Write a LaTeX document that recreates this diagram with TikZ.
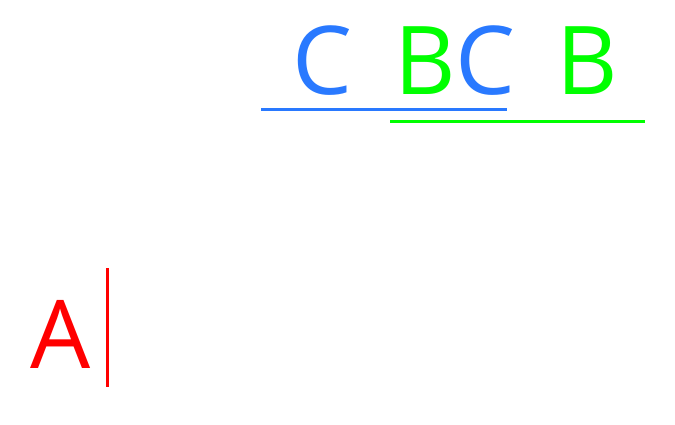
\documentclass[tikz,border=0pt]{standalone}
\usepackage{fontspec}
\setmainfont{Open Sans}
\definecolor{cblue}{RGB}{41,121,255}
\definecolor{cgreen}{RGB}{0,255,0}
\definecolor{cred}{RGB}{255,0,0}
\begin{document}
\begin{tikzpicture}[x=1pt,y=-1pt,
  letter/.style={inner sep=0pt,anchor=base,font=\fontsize{95}{100}\selectfont},
  rule/.style={line width=3pt}]
\useasboundingbox[fill=white] (0,0) rectangle (675,425);
\node[letter,text=cblue] (c) at (322.5,95) {C};
\node[letter] (bc) at (455,95) {\textcolor{cgreen}{B}\textcolor{cblue}{C}};
\node[letter,text=cgreen] (b) at (587.5,95) {B};
\node[letter,text=cred] (a) at (60.5,368) {A};
\coordinate (bl1) at (261,110);
\coordinate (bl2) at (507,110);
\coordinate (gl1) at (390,121.5);
\coordinate (gl2) at (645,121.5);
\coordinate (r1) at (107,268);
\coordinate (r2) at (107,387);
\draw[rule,cblue] (bl1) -- (bl2);
\draw[rule,cgreen] (gl1) -- (gl2);
\draw[rule,cred] (r1) -- (r2);
\end{tikzpicture}
\end{document}
